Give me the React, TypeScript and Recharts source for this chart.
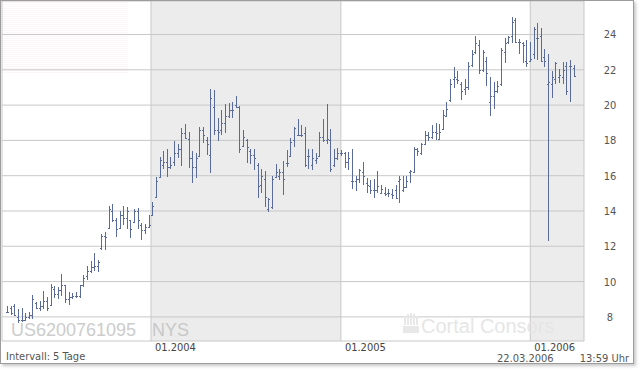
import React from 'react';
import { ComposedChart, Bar, XAxis, YAxis, CartesianGrid } from 'recharts';

// Weekly bars ("Intervall: 5 Tage"), first week starting 31.03.2003
const firstWeek = '2003-03-31';
const DAY = 86400000;
const ORIGIN = Date.UTC(2004, 0, 1);

const openP = [
  8.3, 8.5, 8.6, 8.0, 7.8, 7.8, 8.0, 8.1, 8.8, 8.5, 8.6, 8.9, 8.6, 9.6, 9.3, 9.5, 9.8, 9.0, 9.1, 9.2,
  9.2, 9.8, 10.3, 10.6, 10.8, 10.9, 11.9, 12.6, 13.0, 14.0, 13.5, 13.0, 13.8, 13.6, 13.5, 13.4, 14.0, 13.2, 12.9, 13.1,
  13.7, 14.8, 15.9, 16.6, 16.8, 16.5, 16.8, 17.3, 17.5, 18.4, 18.1, 17.0, 16.5, 17.1, 18.6, 18.0, 17.2, 19.9, 18.6, 18.6,
  19.0, 19.4, 19.7, 20.0, 19.9, 17.7, 18.0, 17.4, 17.2, 16.6, 15.5, 15.8, 14.1, 14.2, 15.9, 16.0, 16.2, 16.7, 17.1, 18.0,
  18.3, 18.3, 18.4, 17.1, 16.6, 16.9, 17.1, 18.2, 18.0, 18.0, 16.6, 17.0, 17.3, 17.3, 16.8, 15.7, 15.7, 15.8, 16.2, 15.6,
  15.4, 15.2, 15.2, 15.0, 15.0, 15.0, 14.95, 15.2, 15.7, 15.2, 15.35, 16.2, 16.2, 17.5, 17.3, 17.8, 18.3, 18.2, 18.5, 18.1,
  18.65, 19.4, 20.3, 21.5, 21.5, 21.2, 20.9, 21.0, 22.3, 23.0, 23.4, 22.0, 22.5, 20.2, 20.5, 20.8, 21.2, 23.0, 23.6, 23.9,
  24.8, 23.6, 23.5, 22.5, 22.5, 22.9, 23.8, 23.9, 22.7, 21.2, 21.2, 21.5, 21.6, 21.6, 22.2, 22.2, 22.1,
];
const highP = [
  8.64, 8.64, 8.75, 8.42, 8.5, 8.23, 8.29, 9.26, 8.85, 8.92, 9.45, 9.1, 9.86, 9.73, 9.68, 10.43, 9.83, 9.4, 9.36, 9.4,
  9.8, 10.4, 10.86, 11.18, 11.6, 11.24, 12.7, 12.8, 14.3, 14.4, 13.6, 14.0, 14.3, 14.2, 13.5, 14.1, 14.15, 13.3, 13.25, 13.77,
  14.5, 15.94, 17.04, 17.4, 17.5, 17.04, 17.96, 17.8, 18.68, 18.92, 18.45, 17.4, 17.26, 18.74, 18.74, 18.17, 20.9, 20.85, 19.25, 19.75,
  20.04, 20.1, 20.2, 20.5, 19.94, 18.58, 18.06, 17.5, 17.5, 16.74, 16.4, 16.26, 14.75, 16.0, 16.64, 16.38, 16.85, 17.45, 18.15, 18.74,
  19.2, 18.9, 18.74, 17.5, 17.5, 17.26, 18.5, 19.2, 20.04, 18.63, 17.5, 17.57, 17.43, 17.34, 17.32, 17.5, 16.0, 16.39, 16.78, 15.88,
  15.73, 15.82, 16.25, 15.5, 15.37, 15.22, 15.22, 15.45, 15.97, 15.97, 16.0, 16.35, 17.62, 17.55, 17.85, 18.54, 18.5, 18.88, 18.97, 18.93,
  19.75, 20.15, 21.5, 22.15, 21.96, 21.3, 21.5, 22.47, 23.1, 23.9, 23.66, 23.13, 22.75, 21.58, 21.3, 21.36, 23.25, 23.8, 23.94, 25.0,
  24.94, 23.75, 23.6, 23.66, 23.6, 24.45, 24.66, 24.38, 23.19, 22.9, 21.96, 22.43, 22.06, 22.43, 22.47, 22.53, 22.3,
];
const lowP = [
  8.23, 8.13, 8.04, 7.67, 7.7, 7.76, 7.9, 7.9, 8.42, 8.32, 8.42, 8.32, 8.6, 9.07, 9.04, 9.17, 8.8, 8.7, 9.04, 9.07,
  9.07, 9.7, 10.1, 10.5, 10.6, 10.55, 11.8, 11.8, 12.97, 13.4, 12.55, 13.0, 13.2, 12.97, 12.46, 13.3, 13.0, 12.36, 12.7, 13.06,
  13.7, 14.75, 15.85, 16.38, 15.94, 16.38, 16.57, 16.98, 16.57, 18.06, 16.45, 15.57, 15.85, 17.04, 17.83, 17.17, 16.17, 18.3, 17.96, 18.3,
  18.4, 19.28, 19.28, 19.85, 17.3, 17.64, 16.74, 16.66, 16.3, 14.75, 15.04, 14.25, 13.96, 14.1, 15.85, 15.75, 14.9, 16.5, 17.04, 17.6,
  18.25, 18.17, 16.5, 16.36, 16.32, 16.64, 17.04, 17.9, 17.8, 16.2, 16.5, 16.87, 17.13, 16.44, 16.3, 15.22, 15.13, 15.6, 15.45, 15.04,
  14.94, 14.72, 15.04, 14.94, 14.85, 14.8, 14.7, 14.7, 14.48, 15.07, 15.32, 15.6, 16.16, 17.1, 17.2, 17.75, 17.94, 18.07, 18.03, 18.0,
  18.6, 19.3, 20.2, 20.98, 21.17, 20.3, 20.55, 20.83, 22.15, 22.9, 21.77, 21.87, 21.06, 19.36, 19.8, 20.68, 21.1, 22.38, 23.47, 23.5,
  23.5, 22.9, 22.4, 22.15, 22.43, 22.62, 22.53, 22.43, 22.15, 12.3, 20.4, 21.2, 21.25, 21.2, 20.55, 20.17, 21.6,
];
const closeP = [
  8.3, 8.2, 8.1, 7.8, 7.8, 8.0, 8.1, 9.0, 8.5, 8.6, 8.9, 8.5, 9.7, 9.3, 9.5, 9.8, 9.0, 9.1, 9.2, 9.2,
  9.8, 10.2, 10.6, 10.8, 10.9, 11.1, 12.6, 12.5, 14.1, 13.5, 13.0, 13.8, 13.6, 14.0, 13.0, 14.0, 13.5, 12.9, 13.1, 13.2,
  14.3, 15.7, 16.9, 16.8, 16.5, 16.6, 17.3, 17.5, 18.4, 18.1, 17.0, 16.5, 17.0, 18.6, 18.3, 17.8, 20.4, 18.6, 18.5, 19.0,
  19.4, 19.7, 19.7, 19.9, 17.5, 18.2, 17.6, 17.2, 17.0, 15.4, 16.0, 14.8, 14.7, 15.8, 16.2, 16.2, 15.8, 16.7, 17.9, 18.7,
  18.3, 18.3, 16.6, 17.1, 17.0, 17.0, 18.2, 18.0, 18.1, 16.4, 17.0, 17.3, 17.3, 16.8, 17.0, 15.7, 15.8, 16.3, 16.0, 15.5,
  15.2, 15.2, 15.4, 15.25, 14.95, 15.0, 14.9, 14.75, 15.8, 15.35, 15.7, 16.25, 17.5, 17.4, 17.8, 18.3, 18.2, 18.5, 18.4, 18.5,
  19.45, 19.8, 21.2, 21.6, 21.4, 20.8, 21.0, 22.2, 22.9, 23.5, 22.0, 23.0, 21.8, 20.5, 20.8, 21.1, 23.1, 23.5, 23.85, 24.7,
  23.6, 23.6, 23.4, 22.4, 22.6, 24.3, 23.8, 22.5, 22.5, 21.3, 21.6, 22.4, 21.7, 22.0, 20.8, 22.2, 21.6,
];

const yearTicks = [Date.UTC(2004, 0, 1), Date.UTC(2005, 0, 1), Date.UTC(2006, 0, 1)].map((t) => (t - ORIGIN) / DAY);
const yearLabels = ['01.2004', '01.2005', '01.2006'];
const priceTicks = [8, 10, 12, 14, 16, 18, 20, 22, 24];

const firstDay = (Date.parse(firstWeek + 'T00:00:00Z') - ORIGIN) / DAY;
const data = openP.map((o, i) => ({
  day: firstDay + 7 * i,
  open: o,
  high: highP[i],
  low: lowP[i],
  close: closeP[i],
  range: [lowP[i], highP[i]],
}));

const BAR_COLOR = '#5a6a99';
const FONT = "'DejaVu Sans Condensed', 'DejaVu Sans', sans-serif";

const OhlcShape = (props: any) => {
  const { x, y, width, height, payload } = props;
  if (x == null || y == null || !payload) return null;
  const top = Math.min(y, y + height);
  const bot = Math.max(y, y + height);
  const { open, high, low, close } = payload;
  const span = high - low || 1;
  const toY = (v: number) => top + ((high - v) / span) * (bot - top);
  const cx = Math.round(x + width / 2 - 0.5);
  const t = Math.round(top);
  const b = Math.round(bot);
  return (
    <g fill={BAR_COLOR} shapeRendering="crispEdges">
      <rect x={cx} y={t} width={1} height={Math.max(1, b - t)} />
      <rect x={cx - 1} y={Math.min(b - 1, Math.round(toY(open)))} width={1} height={1} />
      <rect x={cx + 1} y={Math.min(b - 1, Math.round(toY(close)))} width={1} height={1} />
    </g>
  );
};

const XTick = (props: any) => {
  const { x, payload } = props;
  const idx = yearTicks.indexOf(payload.value);
  return (
    <text x={x + 4} y={350} fontSize={11} fontFamily={FONT} fill="#444" textAnchor="start">
      {yearLabels[idx]}
    </text>
  );
};

const YTick = (props: any) => {
  const { y, payload } = props;
  return (
    <text x={609} y={y + 4} fontSize={11} fontFamily={FONT} fill="#555" textAnchor="middle">
      {payload.value}
    </text>
  );
};

export default function App() {
  return (
    <div style={{ position: 'absolute', left: 0, top: 0, width: 640, height: 370, background: '#fff' }}>
      <div
        style={{
          position: 'absolute',
          left: 0,
          top: 0,
          width: 632,
          height: 362,
          border: '1px solid #9c9c9c',
          background: '#fff',
          boxShadow: '2px 2px 3px rgba(0,0,0,0.22)',
        }}
      >
        <div
          style={{
            position: 'absolute',
            left: 0,
            top: 1,
            width: 127,
            height: 72,
            background: 'repeating-linear-gradient(to bottom, #fdf6f8 0px, #fdf6f8 1px, #ffffff 1px, #ffffff 2px)',
          }}
        />
        <div style={{ position: 'absolute', left: 0, top: 0 }}>
          <ComposedChart width={632} height={362} data={data} margin={{ top: 0, right: 0, bottom: 0, left: 1 }}>
            <CartesianGrid
              stroke="#c8c8c8"
              verticalFill={['none', '#ececec']}
              fillOpacity={1}
            />
            <XAxis
              type="number"
              dataKey="day"
              domain={[-287.2, 834.6]}
              allowDataOverflow
              ticks={yearTicks}
              tickLine={false}
              axisLine={false}
              height={22}
              tick={<XTick />}
              interval={0}
            />
            <YAxis
              orientation="right"
              width={49}
              domain={[6.634, 25.898]}
              allowDataOverflow
              ticks={priceTicks}
              tickLine={false}
              axisLine={false}
              tick={<YTick />}
              interval={0}
            />
            <Bar dataKey="range" barSize={3} shape={<OhlcShape />} isAnimationActive={false} />
          </ComposedChart>
        </div>
      </div>
      <svg
        width={640}
        height={370}
        style={{ position: 'absolute', left: 0, top: 0, pointerEvents: 'none' }}
      >
        <text x={11} y={336} fontSize={18} fontFamily="'Liberation Sans', Arial, sans-serif" fill="#cccccc">
          US6200761095
        </text>
        <text x={152} y={336} fontSize={18} fontFamily="'Liberation Sans', Arial, sans-serif" fill="#c8c8c8">
          NYS
        </text>
        <g fill="#e8e8e8">
          <rect x={403} y={326} width={16} height={7} />
          <rect x={404} y={316} width={2} height={9} />
          <rect x={407} y={314} width={2} height={11} />
          <rect x={410} y={313} width={2} height={12} />
          <rect x={413} y={314} width={2} height={11} />
          <rect x={416} y={316} width={2} height={9} />
        </g>
        <text x={421} y={333} fontSize={20} fontFamily="'Liberation Sans', Arial, sans-serif" fill="#e6e6e6">
          Cortal Consors
        </text>
        <text x={6} y={360} fontSize={11} fontFamily={FONT} fill="#555">
          Intervall: 5 Tage
        </text>
        <text x={497} y={362} fontSize={11} fontFamily={FONT} fill="#555">
          22.03.2006
        </text>
        <text x={629} y={362} fontSize={11} fontFamily={FONT} fill="#555" textAnchor="end">
          13:59 Uhr
        </text>
      </svg>
    </div>
  );
}
